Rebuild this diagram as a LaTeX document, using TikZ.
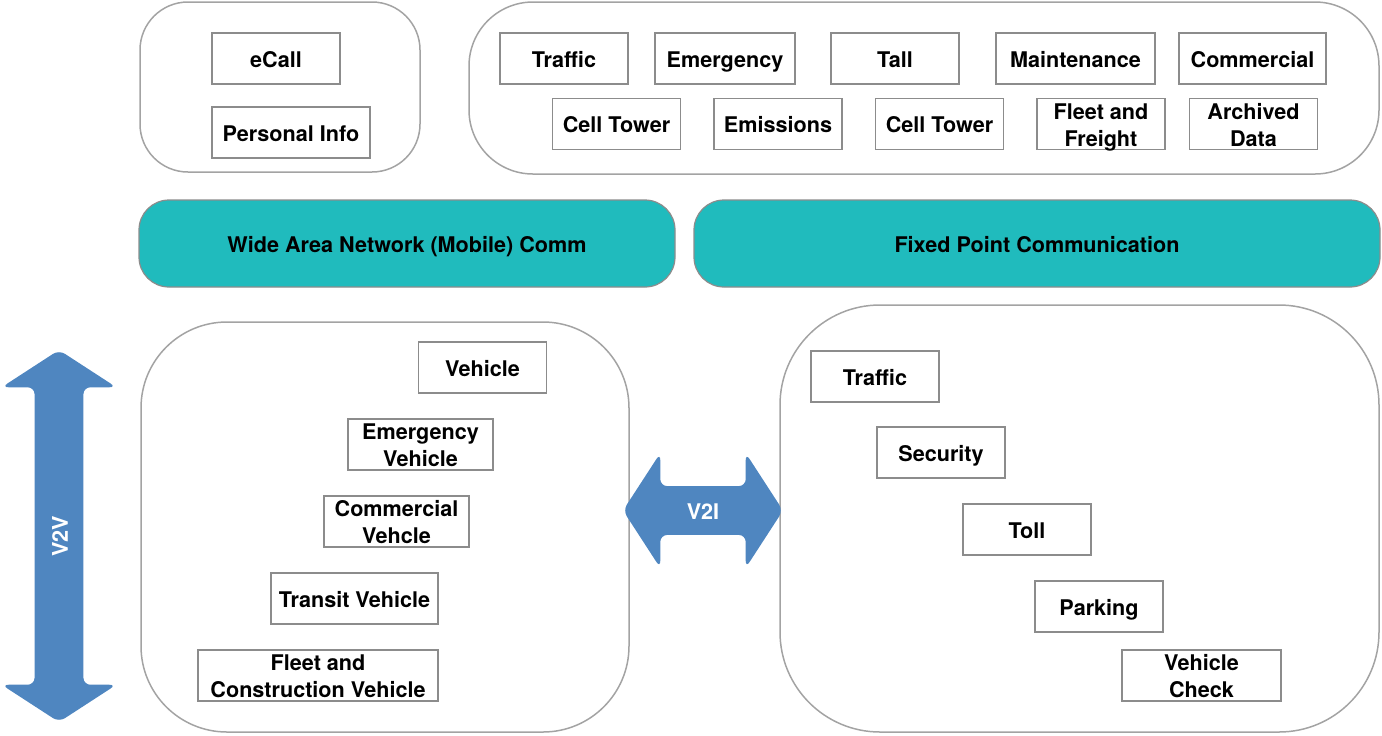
\documentclass[tikz,border=0pt]{standalone}
\usepackage{fontspec}
\setmainfont{TeX Gyre Heros}
\usetikzlibrary{shapes.arrows}
\definecolor{bandteal}{HTML}{20BBBD}
\definecolor{linkblue}{HTML}{4F86C0}
\definecolor{edgegray}{HTML}{8C8C8C}
\tikzset{
  lbl/.style   ={font=\fontsize{10.8}{13.5}\selectfont\bfseries,
                 text height=8.8pt, text depth=0pt},
  box/.style   ={lbl, draw=edgegray, line width=0.6pt, minimum width=64pt,
                 minimum height=25.5pt, inner sep=1pt, align=center},
  twoline/.style={box, text height=22.3pt},
  group/.style ={draw=edgegray!80, line width=0.75pt},
  band/.style  ={lbl, draw=edgegray, line width=0.6pt, fill=bandteal,
                 rounded corners=15pt, minimum height=43.5pt},
  link/.style  ={lbl, double arrow, fill=linkblue, text=white,
                 double arrow head extend=16.5pt, double arrow tip angle=114,
                 inner xsep=0pt, inner ysep=7.6pt, rounded corners=3.5pt},
}

\begin{document}
\begin{tikzpicture}[x=0.5pt,y=-0.5pt]
  \useasboundingbox (0,0) rectangle (1382,735);

  % groups
  \draw[group, rounded corners=24pt](140,2) rectangle (420,172);
  \draw[group, rounded corners=32pt](469,2) rectangle (1379,174);
  \draw[group, rounded corners=43pt](141,322) rectangle (629,732);
  \draw[group, rounded corners=50pt](780,305) rectangle (1379,732);

  % personal
  \node[box](ecall) at (276,58.5){eCall};
  \node[box, minimum width=79pt](pinfo) at (291,132.5){Personal Info};

  % infrastructure services
  \node[box](traffic) at (564,58.5){Traffic};
  \node[box, minimum width=70pt](emerg) at (725,58.5){Emergency};
  \node[box](tall) at (895,58.5){Tall};
  \node[box, minimum width=79.5pt](maint) at (1075.5,58.5){Maintenance};
  \node[box, minimum width=73.5pt](comm) at (1252.5,58.5){Commercial};
  \node[box](cell) at (616.5,124){Cell Tower};
  \node[box](emis) at (778,124){Emissions};
  \node[box](celltwo) at (939.5,124){Cell Tower};
  \node[twoline](fleet) at (1101,124){Fleet and\\Freight};
  \node[twoline](archive) at (1253.5,124){Archived\\Data};

  % communication layers
  \node[band, minimum width=268pt](wan) at (407,243.5){Wide Area Network (Mobile) Comm};
  \node[band, minimum width=343pt](fixed) at (1037,243.5){Fixed Point Communication};

  % vehicles
  \node[box](veh) at (482.5,367.5){Vehicle};
  \node[twoline, minimum width=72.5pt](emveh) at (420.5,444.5){Emergency\\Vehicle};
  \node[twoline, minimum width=72.5pt](comveh) at (396.5,521.5){Commercial\\Vehcle};
  \node[box, minimum width=83.5pt](transit) at (354.5,598.5){Transit Vehicle};
  \node[twoline, minimum width=120pt](construct) at (318,675.5){Fleet and\\Construction Vehicle};

  % roadside
  \node[box](rtraffic) at (875,376.5){Traffic};
  \node[box](security) at (941,452.5){Security};
  \node[box](toll) at (1027,529.5){Toll};
  \node[box](parking) at (1099,606.5){Parking};
  \node[twoline, minimum width=79.5pt](vcheck) at (1201.5,675.5){Vehicle\\Check};

  % links
  \node[link, rotate=90, minimum height=186pt](vtov) at (59,536){V2V};
  \node[link, minimum height=80pt](vtoi) at (703,510.5){V2I};
\end{tikzpicture}
\end{document}
